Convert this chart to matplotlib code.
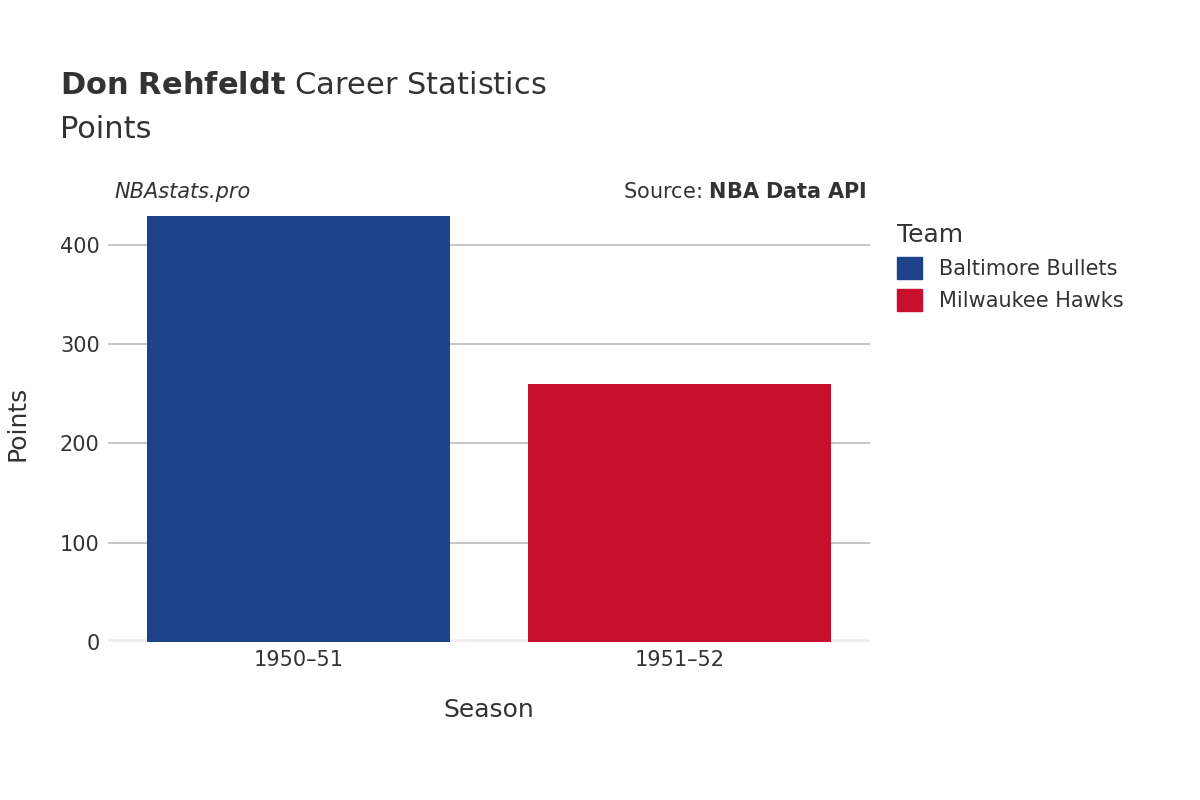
import matplotlib.pyplot as plt
from matplotlib.patches import Patch

seasons = ["1950\u201351", "1951\u201352"]
points = [430, 260]
teams = ["Baltimore Bullets", "Milwaukee Hawks"]
colors = ["#1d428a", "#c8102e"]
yticks = [0, 100, 200, 300, 400]

fig = plt.figure(figsize=(12, 8), dpi=100)
ax = fig.add_axes([0.09, 0.198, 0.635, 0.545])

x = range(len(seasons))
ax.bar(x, points, width=0.795, color=colors, zorder=3)

ax.set_xlim(-0.5, 1.5)
ax.set_ylim(0, 440)
ax.set_yticks(yticks)
ax.set_xticks(list(x))
ax.set_xticklabels(seasons)
ax.tick_params(axis="both", length=0, labelsize=15, colors="#333333", pad=6)
ax.grid(axis="y", color="#bbbbbb", linewidth=1.2, zorder=0)
ax.axhline(0, color="#eeeeee", linewidth=4, zorder=2)
for s in ax.spines.values():
    s.set_visible(False)

ax.set_xlabel("Season", fontsize=18, color="#333333", labelpad=20)
ax.set_ylabel("Points", fontsize=18, color="#333333", labelpad=22)

fig.text(0.05, 0.875, r"$\bf{Don\ Rehfeldt}$ Career Statistics", fontsize=22, color="#333333", va="bottom")
fig.text(0.05, 0.82, "Points", fontsize=22, color="#333333", va="bottom")
fig.text(0.095, 0.76, "NBAstats.pro", fontsize=15, style="italic", color="#333333", va="center")
fig.text(0.722, 0.76, r"Source: $\bf{NBA\ Data\ API}$", fontsize=15, color="#333333", va="center", ha="right")

handles = [Patch(facecolor=c, edgecolor=c, label=t) for t, c in zip(teams, colors)]
leg = fig.legend(handles=handles, title="Team", loc="upper left", bbox_to_anchor=(0.732, 0.745),
                 frameon=False, fontsize=15, title_fontsize=18, handlelength=1.2, handleheight=1.2,
                 labelcolor="#333333")
leg._legend_box.align = "left"
leg.get_title().set_color("#333333")

fig.savefig("out.png", dpi=100, facecolor="white")
